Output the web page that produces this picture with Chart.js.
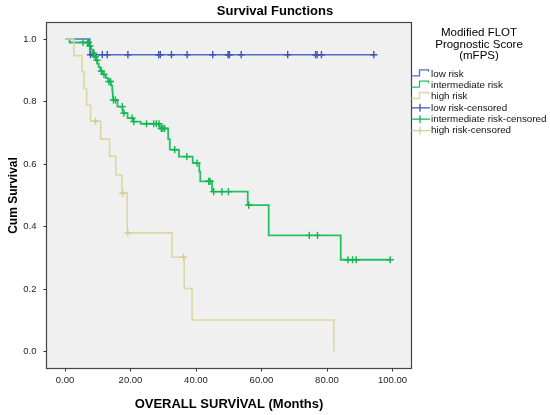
<!DOCTYPE html>
<html><head><meta charset="utf-8">
<script src="https://cdn.jsdelivr.net/npm/chart.js@4.4.1/dist/chart.umd.min.js"></script>
<style>html,body{margin:0;padding:0;background:#fff}#wrap{position:relative;width:550px;height:415px}</style>
</head><body><div id="wrap"><canvas id="c"></canvas></div>
<script>
// ---- data ----
const chartTitle = 'Survival Functions';
const xTickValues = [0, 20, 40, 60, 80, 100];
const yTickValues = [0, 0.2, 0.4, 0.6, 0.8, 1.0];
const groupNames = ['low risk', 'intermediate risk', 'high risk'];
const legendTitleLines = ['Modified FLOT', 'Prognostic Score', '(mFPS)'];

// Kaplan-Meier steps (months, cumulative survival); last entry = last follow-up
const lowTimes = [0, 7.6, 94.3];
const lowSurv  = [1.0, 0.95, 0.95];
const lowCensored = [7.8, 8.8, 11.4, 12.9, 19.2, 28.6, 29.1, 32.5, 37.3, 45.1, 49.8, 50.2, 53.8, 68.0, 76.5, 77.0, 78.3, 94.3];

const intTimes = [0, 1.4, 7.5, 8.0, 8.5, 9.0, 9.5, 9.9, 10.3, 10.8, 11.5, 12.5, 13.2, 14.0, 14.4, 14.5, 14.6, 14.7, 16.0, 17.6, 19.1, 20.9, 23.1, 28.9, 31.5, 32.0, 34.8, 39.0, 41.0, 41.3, 44.9, 55.8, 62.2, 84.2, 99.3];
const intSurv  = [1.0, 0.989, 0.978, 0.966, 0.955, 0.944, 0.932, 0.921, 0.910, 0.898, 0.887, 0.875, 0.864, 0.852, 0.840, 0.828, 0.816, 0.805, 0.784, 0.763, 0.747, 0.736, 0.729, 0.714, 0.680, 0.646, 0.624, 0.603, 0.576, 0.545, 0.512, 0.469, 0.372, 0.294, 0.294];
const intCensored = [5.5, 6.9, 7.2, 7.6, 8.8, 9.3, 9.8, 11.1, 11.9, 13.4, 13.9, 14.8, 15.4, 17.5, 18.0, 20.5, 21.0, 24.9, 27.1, 27.9, 28.7, 29.4, 29.9, 30.4, 33.5, 37.2, 40.3, 43.9, 44.3, 45.4, 47.9, 49.9, 56.1, 74.6, 77.1, 86.4, 87.8, 88.9, 99.3];

const highTimes = [0, 2.7, 5.2, 5.8, 6.6, 7.8, 10.9, 13.6, 15.5, 17.4, 19.0, 32.7, 36.4, 38.8, 82.1];
const highSurv  = [1.0, 0.947, 0.895, 0.842, 0.789, 0.737, 0.680, 0.625, 0.565, 0.507, 0.380, 0.302, 0.202, 0.101, 0.0];
const highCensored = [9.3, 17.6, 19.2, 36.2];

// ---- styling ----
const FONT = '"Liberation Sans", Arial, sans-serif';
const lineColors = ['#5070c6', '#22c262', '#dcd6a4'];
const censorColors = ['#3a56b0', '#14b452', '#d2cb94'];

function stepPoints(times, surv) { return times.map((t, i) => ({x: t, y: surv[i]})); }
function survAt(times, surv, t) {
  let s = surv[0];
  for (let i = 0; i < times.length; i++) { if (times[i] <= t) s = surv[i]; }
  return s;
}
function censorPoints(times, surv, cens) { return cens.map(t => ({x: t, y: survAt(times, surv, t)})); }

const groups = [
  {t: lowTimes, s: lowSurv, c: lowCensored},
  {t: intTimes, s: intSurv, c: intCensored},
  {t: highTimes, s: highSurv, c: highCensored}
];
const drawOrder = [2, 1, 0]; // high risk on top
const datasets = [];
groups.forEach((g, i) => {
  datasets.push({
    label: groupNames[i], data: stepPoints(g.t, g.s), stepped: 'before',
    borderColor: lineColors[i], borderWidth: i === 1 ? 1.8 : 1.6, pointRadius: 0, fill: false,
    order: drawOrder[i] * 2 + 1
  });
  datasets.push({
    label: groupNames[i] + '-censored', data: censorPoints(g.t, g.s, g.c), showLine: false,
    pointStyle: 'cross', pointRadius: 3.6, pointBorderWidth: 1.4,
    borderColor: censorColors[i], backgroundColor: censorColors[i],
    order: drawOrder[i] * 2
  });
});

const bgPlugin = {
  id: 'bg',
  beforeDraw(chart) {
    const {ctx, chartArea: a} = chart;
    ctx.save();
    ctx.fillStyle = '#ffffff';
    ctx.fillRect(0, 0, chart.width, chart.height);
    ctx.fillStyle = '#f0f0f0';
    ctx.fillRect(a.left, a.top, a.right - a.left, a.bottom - a.top);
    ctx.restore();
  },
  afterDraw(chart) {
    const {ctx, chartArea: a} = chart;
    ctx.save();
    ctx.strokeStyle = '#444';
    ctx.lineWidth = 1.2;
    ctx.strokeRect(a.left, a.top, a.right - a.left, a.bottom - a.top);
    // title (centred on the whole figure)
    ctx.fillStyle = '#000';
    ctx.textAlign = 'center';
    ctx.textBaseline = 'middle';
    ctx.font = 'bold 13px ' + FONT;
    ctx.fillText(chartTitle, chart.width / 2, 11.5);
    // legend
    ctx.font = '11.5px ' + FONT;
    legendTitleLines.forEach((t, i) => ctx.fillText(t, 479, 33.3 + i * 11.2));
    ctx.textAlign = 'left';
    ctx.font = '9.8px ' + FONT;
    const x0 = a.right;
    const items = [];
    groupNames.forEach((n, i) => items.push({label: n, kind: 'line', color: lineColors[i]}));
    groupNames.forEach((n, i) => items.push({label: n + '-censored', kind: 'cens', color: censorColors[i]}));
    items.forEach((it, i) => {
      const c = 73.3 + i * 11.35;
      ctx.strokeStyle = it.color;
      ctx.lineWidth = 1.3;
      ctx.beginPath();
      if (it.kind === 'line') {
        ctx.moveTo(x0, c + 2.5); ctx.lineTo(x0 + 8, c + 2.5); ctx.lineTo(x0 + 8, c - 3.5);
        ctx.lineTo(x0 + 17, c - 3.5); ctx.lineTo(x0 + 17, c - 1.5);
      } else {
        ctx.moveTo(x0, c + 0.5); ctx.lineTo(x0 + 18.5, c + 0.5);
        ctx.moveTo(x0 + 8.5, c - 3.5); ctx.lineTo(x0 + 8.5, c + 4.5);
      }
      ctx.stroke();
      ctx.fillStyle = '#111';
      ctx.fillText(it.label, x0 + 19.5, c + 0.5);
    });
    ctx.restore();
  }
};

Chart.defaults.font.family = FONT;
new Chart(document.getElementById('c'), {
  type: 'line',
  data: {datasets},
  plugins: [bgPlugin],
  options: {
    responsive: true, maintainAspectRatio: false, animation: false,
    layout: {padding: {left: 0, right: 138.5, top: 22.5, bottom: 0}},
    plugins: {legend: {display: false}, tooltip: {enabled: false}, title: {display: false}},
    scales: {
      x: {
        type: 'linear', min: -5.65, max: 105.8,
        afterBuildTicks: s => { s.ticks = xTickValues.map(v => ({value: v})); },
        afterFit: s => { s.height = 46.5; },
        ticks: {callback: v => Number(v).toFixed(2), font: {size: 9.5}, color: '#222', padding: 3, maxRotation: 0, autoSkip: false},
        grid: {display: true, drawOnChartArea: false, drawTicks: true, tickLength: 3, color: '#333'},
        border: {display: false},
        title: {display: true, text: 'OVERALL SURVİVAL (Months)', color: '#000',
                font: {size: 13, weight: 'bold'}, padding: {top: 0, bottom: 2.5}}
      },
      y: {
        type: 'linear', min: -0.054, max: 1.053,
        afterBuildTicks: s => { s.ticks = yTickValues.map(v => ({value: v})); },
        afterFit: s => { s.width = 46.5; },
        ticks: {callback: v => Number(v).toFixed(1), font: {size: 9.5}, color: '#222', padding: 7, autoSkip: false},
        grid: {display: true, drawOnChartArea: false, drawTicks: true, tickLength: 3, color: '#333'},
        border: {display: false},
        title: {display: true, text: 'Cum Survival', color: '#000',
                font: {size: 12, weight: 'bold'}, padding: {top: 6.8, bottom: 0}}
      }
    }
  }
});
</script>
</body></html>
